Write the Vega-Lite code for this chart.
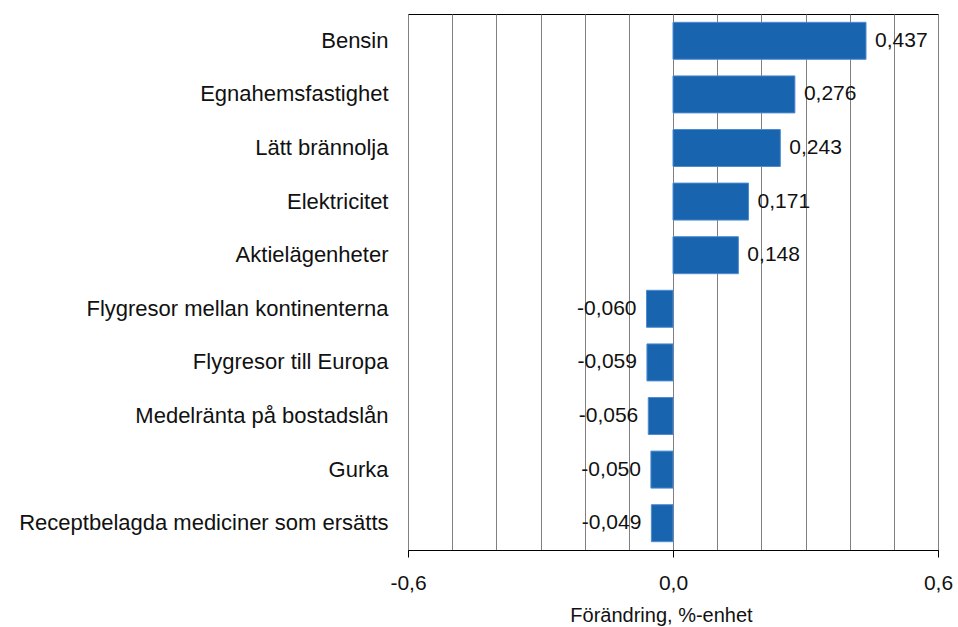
{
  "$schema": "https://vega.github.io/schema/vega-lite/v6.json",
  "width": 530,
  "height": 536,
  "autosize": {"type": "none"},
  "padding": {"left": 408, "top": 14, "right": 20, "bottom": 77},
  "background": "white",
  "config": {
    "locale": {"number": {"decimal": ",", "thousands": " ", "grouping": [3], "currency": ["", " kr"], "minus": "-"}},
    "font": "Liberation Sans",
    "view": {"stroke": "#000000", "strokeWidth": 1}
  },
  "data": {
    "values": [
      {"kategori": "Bensin", "v": 0.437},
      {"kategori": "Egnahemsfastighet", "v": 0.276},
      {"kategori": "Lätt brännolja", "v": 0.243},
      {"kategori": "Elektricitet", "v": 0.171},
      {"kategori": "Aktielägenheter", "v": 0.148},
      {"kategori": "Flygresor mellan kontinenterna", "v": -0.060},
      {"kategori": "Flygresor till Europa", "v": -0.059},
      {"kategori": "Medelränta på bostadslån", "v": -0.056},
      {"kategori": "Gurka", "v": -0.050},
      {"kategori": "Receptbelagda mediciner som ersätts", "v": -0.049}
    ]
  },
  "encoding": {
    "y": {
      "field": "kategori",
      "type": "nominal",
      "sort": null,
      "scale": {"paddingInner": 0.31, "paddingOuter": 0.155},
      "axis": {
        "title": null,
        "domain": false,
        "ticks": false,
        "labelPadding": 20,
        "labelFontSize": 22,
        "labelColor": "#111111",
        "labelFont": "Liberation Sans",
        "labelLimit": 420
      }
    },
    "x": {
      "field": "v",
      "type": "quantitative",
      "scale": {"domain": [-0.6, 0.6], "nice": false, "zero": false},
      "axis": {
        "title": "Förändring, %-enhet",
        "titleFont": "Liberation Sans",
        "titleFontSize": 20,
        "titleFontWeight": "normal",
        "titleColor": "#111111",
        "titlePadding": 12,
        "titleX": 253,
        "values": [-0.6, -0.5, -0.4, -0.3, -0.2, -0.1, 0, 0.1, 0.2, 0.3, 0.4, 0.5, 0.6],
        "format": ".1f",
        "labelExpr": "(abs(datum.value) > 0.55 || abs(datum.value) < 0.01) ? datum.label : ''",
        "labelFontSize": 21,
        "labelColor": "#111111",
        "labelFont": "Liberation Sans",
        "labelPadding": 15,
        "labelOverlap": false,
        "labelFlush": false,
        "grid": true,
        "gridColor": "#808080",
        "gridWidth": 1,
        "domain": true,
        "domainColor": "#000000",
        "tickSize": 7,
        "tickColor": {"condition": {"test": "abs(datum.value) > 0.55 || abs(datum.value) < 0.01", "value": "#000000"}, "value": "transparent"}
      }
    }
  },
  "layer": [
    {
      "mark": {"type": "bar", "color": "#1864AF", "stroke": "#4f8bd0", "strokeWidth": 1}
    },
    {
      "transform": [{"filter": "datum.v >= 0"}],
      "mark": {"type": "text", "align": "left", "baseline": "middle", "dx": 9, "fontSize": 21, "color": "#111111", "font": "Liberation Sans"},
      "encoding": {"text": {"field": "v", "type": "quantitative", "format": ".3f"}}
    },
    {
      "transform": [{"filter": "datum.v < 0"}],
      "mark": {"type": "text", "align": "right", "baseline": "middle", "dx": -10, "fontSize": 21, "color": "#111111", "font": "Liberation Sans"},
      "encoding": {"text": {"field": "v", "type": "quantitative", "format": ".3f"}}
    }
  ]
}
